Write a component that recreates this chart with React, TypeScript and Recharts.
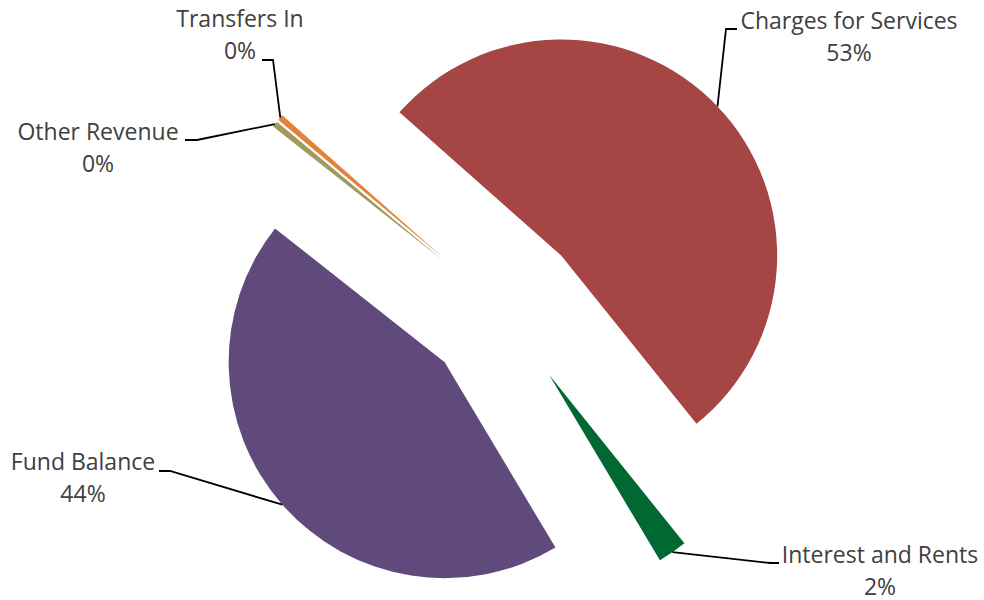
import { PieChart, Pie, Sector } from "recharts";

const categories = [
  "Charges for Services",
  "Interest and Rents",
  "Fund Balance",
  "Other Revenue",
  "Transfers In",
];
const shares = [52.7, 2.2, 44.2, 0.45, 0.45];
const percentLabels = ["53%", "2%", "44%", "0%", "0%"];

const colors = ["#A64644", "#006830", "#5F4A7B", "#A09A5C", "#E0843C"];

const data = categories.map((name, i) => ({ name, value: shares[i] }));

const EXPLODE = 79;
const RADIAN = Math.PI / 180;

// where each label sits: text centre/baseline, elbow of the leader line, end of leader
const labelLayout = [
  { tx: 849, ty: 29, bend: [726, 29], end: [737, 29] },
  { tx: 880, ty: 563, bend: [770, 563], end: [779, 563] },
  { tx: 83, ty: 470, bend: [170, 471], end: [159, 471] },
  { tx: 98, ty: 140, bend: [197, 140], end: [185, 140] },
  { tx: 240, ty: 27, bend: [273, 60], end: [262, 60] },
];

// draws the exploded slice plus its leader line and label
const renderSlice = (props: any) => {
  const { cx, cy, midAngle, startAngle, endAngle, outerRadius, index } = props;
  const dx = Math.cos(-midAngle * RADIAN);
  const dy = Math.sin(-midAngle * RADIAN);
  const ox = cx + EXPLODE * dx;
  const oy = cy + EXPLODE * dy;
  const ax = ox + outerRadius * dx;
  const ay = oy + outerRadius * dy;
  const l = labelLayout[index];
  return (
    <g key={`slice-${index}`}>
      <Sector
        cx={ox}
        cy={oy}
        innerRadius={0}
        outerRadius={outerRadius}
        startAngle={startAngle}
        endAngle={endAngle}
        fill={colors[index]}
        stroke="none"
      />
      <polyline
        points={`${ax},${ay} ${l.bend[0]},${l.bend[1]} ${l.end[0]},${l.end[1]}`}
        stroke="#000"
        strokeWidth={1.8}
        fill="none"
      />
      <text
        x={l.tx}
        y={l.ty}
        textAnchor="middle"
        fontFamily="Open Sans"
        fontSize={23}
        fill="#404040"
      >
        <tspan x={l.tx}>{categories[index]}</tspan>
        <tspan x={l.tx} dy={32}>
          {percentLabels[index]}
        </tspan>
      </text>
    </g>
  );
};

export default function App() {
  return (
    <div style={{ position: "absolute", left: 0, top: 0, background: "#fff" }}>
      <PieChart width={984} height={600} margin={{ top: 0, right: 0, bottom: 0, left: 0 }}>
        <Pie
          data={data}
          dataKey="value"
          nameKey="name"
          cx={504}
          cy={310}
          innerRadius={0}
          outerRadius={216}
          startAngle={138.5}
          endAngle={-221.5}
          fill="none"
          stroke="none"
          label={renderSlice}
          labelLine={false}
          isAnimationActive={false}
        />
      </PieChart>
    </div>
  );
}
